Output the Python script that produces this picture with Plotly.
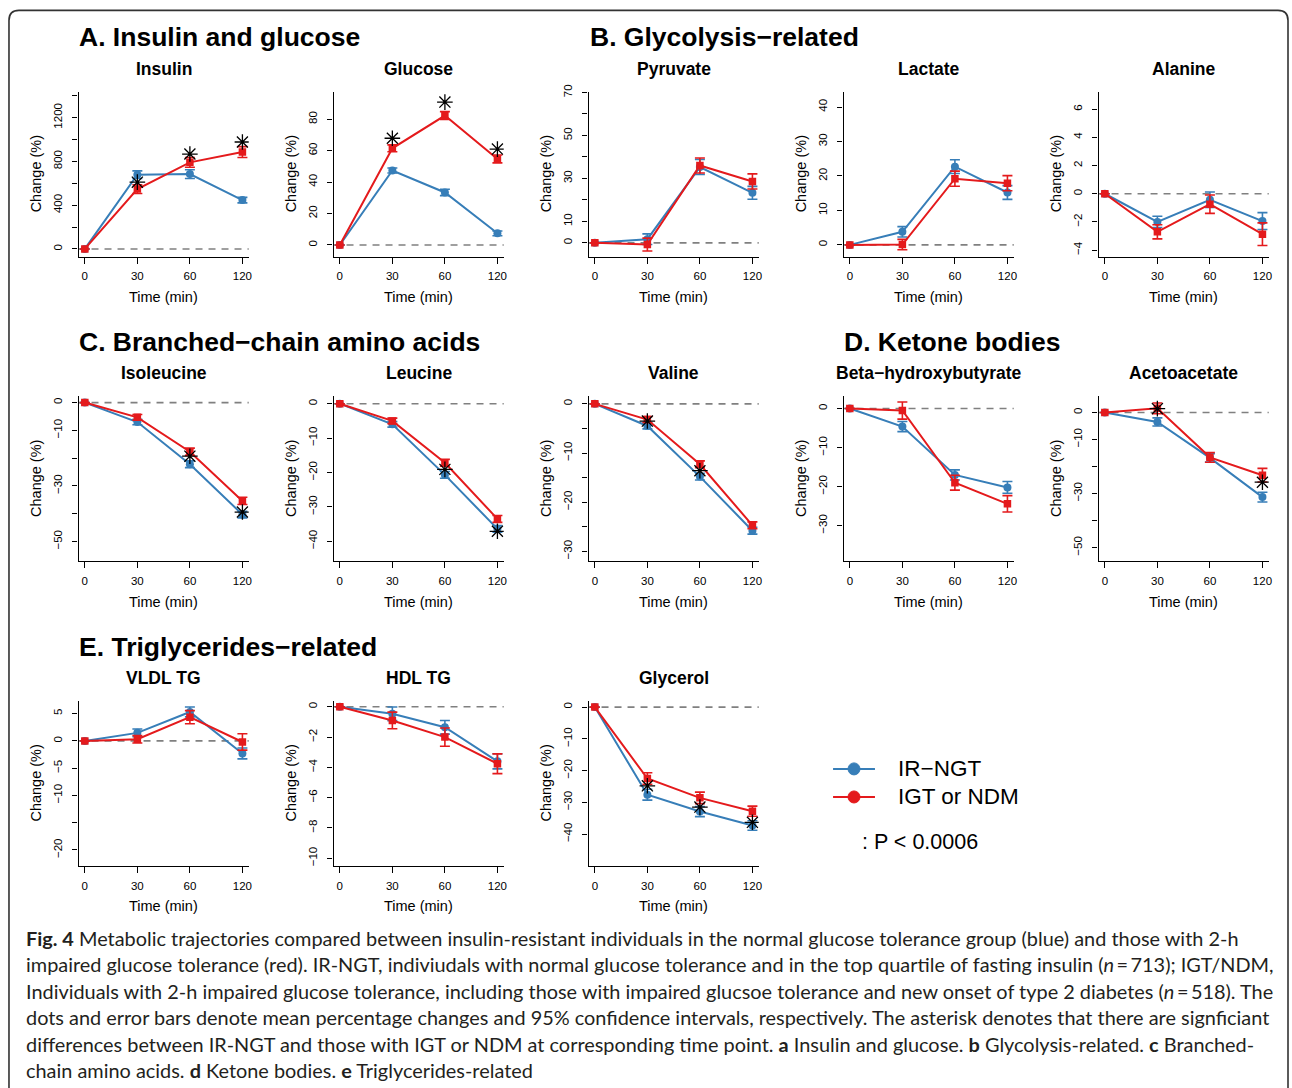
import plotly.graph_objects as go

W, H = 1292, 1088
BLUE = "#377EB8"
RED = "#E41A1C"
GREY = "#808080"
M = "\u2212"

# ---------------- data ----------------
time_labels = ["0", "30", "60", "120"]

insulin_ir = [0, 678, 684, 446]
insulin_ir_ci = [None, 35, 40, 25]
insulin_igt = [0, 547, 791, 885]
insulin_igt_ci = [None, 40, 45, 50]
insulin_sig_t = ["30", "60", "120"]
insulin_sig_y = [610, 867, 977]
insulin_ticks = [0, 200, 400, 600, 800, 1000, 1200, 1400]
insulin_ticklabels = ["0", "", "400", "", "800", "", "1200", ""]

glucose_ir = [0, 47.4, 33.4, 7.4]
glucose_ir_ci = [None, 1.6, 2.0, 1.5]
glucose_igt = [0, 61.5, 82.3, 54.7]
glucose_igt_ci = [None, 2.2, 2.5, 2.5]
glucose_sig_t = ["30", "60", "120"]
glucose_sig_y = [67.9, 90.9, 61.0]
glucose_ticks = [0, 20, 40, 60, 80]
glucose_ticklabels = ["0", "20", "40", "60", "80"]

pyruvate_ir = [0, 1.7, 35.3, 23.3]
pyruvate_ir_ci = [None, 2.5, 3.5, 3.0]
pyruvate_igt = [0, -0.8, 36.0, 28.6]
pyruvate_igt_ci = [None, 3.0, 3.5, 3.5]
pyruvate_sig_t = []
pyruvate_sig_y = []
pyruvate_ticks = [0, 10, 20, 30, 40, 50, 60, 70]
pyruvate_ticklabels = ["0", "10", "", "30", "", "50", "", "70"]

lactate_ir = [0, 3.8, 22.7, 15.2]
lactate_ir_ci = [None, 1.5, 2.0, 2.0]
lactate_igt = [0, 0.1, 19.2, 17.9]
lactate_igt_ci = [None, 1.5, 2.2, 2.2]
lactate_sig_t = []
lactate_sig_y = []
lactate_ticks = [0, 10, 20, 30, 40]
lactate_ticklabels = ["0", "10", "20", "30", "40"]

alanine_ir = [0, -2.0, -0.43, -1.94]
alanine_ir_ci = [None, 0.4, 0.55, 0.6]
alanine_igt = [0, -2.7, -0.74, -2.87]
alanine_igt_ci = [None, 0.5, 0.65, 0.8]
alanine_sig_t = []
alanine_sig_y = []
alanine_ticks = [-4, -2, 0, 2, 4, 6]
alanine_ticklabels = [M + "4", M + "2", "0", "2", "4", "6"]

isoleucine_ir = [0, -7.0, -22.2, -40.3]
isoleucine_ir_ci = [None, 1.0, 1.2, 1.2]
isoleucine_igt = [0, -5.3, -17.7, -35.4]
isoleucine_igt_ci = [None, 1.0, 1.3, 1.3]
isoleucine_sig_t = ["60", "120"]
isoleucine_sig_y = [-19.3, -39.4]
isoleucine_ticks = [-50, -40, -30, -20, -10, 0]
isoleucine_ticklabels = [M + "50", "", M + "30", "", M + "10", "0"]

leucine_ir = [0, -6.0, -20.7, -36.4]
leucine_ir_ci = [None, 0.8, 1.0, 1.0]
leucine_igt = [0, -5.0, -17.2, -33.5]
leucine_igt_ci = [None, 0.8, 1.0, 1.0]
leucine_sig_t = ["60", "120"]
leucine_sig_y = [-19.1, -37.1]
leucine_ticks = [-40, -30, -20, -10, 0]
leucine_ticklabels = [M + "40", M + "30", M + "20", M + "10", "0"]

valine_ir = [0, -4.5, -14.8, -25.8]
valine_ir_ci = [None, 0.6, 0.7, 0.7]
valine_igt = [0, -3.2, -12.3, -24.7]
valine_igt_ci = [None, 0.6, 0.7, 0.7]
valine_sig_t = ["30", "60"]
valine_sig_y = [-3.5, -13.6]
valine_ticks = [-30, -25, -20, -15, -10, -5, 0]
valine_ticklabels = [M + "30", "", M + "20", "", M + "10", "", "0"]

bhb_ir = [0, -4.6, -17.0, -20.2]
bhb_ir_ci = [None, 1.3, 1.3, 1.5]
bhb_igt = [0, -0.5, -19.0, -24.4]
bhb_igt_ci = [None, 2.2, 1.9, 2.1]
bhb_sig_t = []
bhb_sig_y = []
bhb_ticks = [-30, -20, -10, 0]
bhb_ticklabels = [M + "30", M + "20", M + "10", "0"]

acac_ir = [0, -3.5, -16.8, -31.3]
acac_ir_ci = [None, 1.5, 1.5, 1.8]
acac_igt = [0, 1.5, -16.6, -23.2]
acac_igt_ci = [None, 2.0, 1.8, 2.5]
acac_sig_t = ["30", "120"]
acac_sig_y = [1.4, -25.8]
acac_ticks = [-50, -40, -30, -20, -10, 0]
acac_ticklabels = [M + "50", "", M + "30", "", M + "10", "0"]

vldl_ir = [0, 1.47, 5.3, -2.3]
vldl_ir_ci = [None, 0.7, 0.9, 1.0]
vldl_igt = [0, 0.3, 4.35, -0.2]
vldl_igt_ci = [None, 0.7, 1.2, 1.5]
vldl_sig_t = []
vldl_sig_y = []
vldl_ticks = [-20, -15, -10, -5, 0, 5]
vldl_ticklabels = [M + "20", "", M + "10", M + "5", "0", "5"]

hdl_ir = [0, -0.46, -1.35, -3.6]
hdl_ir_ci = [None, 0.45, 0.45, 0.5]
hdl_igt = [0, -0.9, -2.0, -3.76]
hdl_igt_ci = [None, 0.55, 0.6, 0.65]
hdl_sig_t = []
hdl_sig_y = []
hdl_ticks = [-10, -8, -6, -4, -2, 0]
hdl_ticklabels = [M + "10", M + "8", M + "6", M + "4", M + "2", "0"]

glycerol_ir = [0, -27.6, -32.9, -37.3]
glycerol_ir_ci = [None, 1.7, 1.6, 1.5]
glycerol_igt = [0, -22.5, -28.6, -32.8]
glycerol_igt_ci = [None, 1.8, 1.8, 1.6]
glycerol_sig_t = ["30", "60", "120"]
glycerol_sig_y = [-24.8, -31.5, -36.3]
glycerol_ticks = [-40, -30, -20, -10, 0]
glycerol_ticklabels = [M + "40", M + "30", M + "20", M + "10", "0"]

legend_names = ["IR\u2212NGT", "IGT or NDM"]

# ---------------- layout config ----------------
panels = [
    ("Insulin", 0, 0, insulin_ir, insulin_ir_ci, insulin_igt, insulin_igt_ci, insulin_sig_t, insulin_sig_y, [-70, 1435], insulin_ticks, insulin_ticklabels),
    ("Glucose", 0, 1, glucose_ir, glucose_ir_ci, glucose_igt, glucose_igt_ci, glucose_sig_t, glucose_sig_y, [-7.4, 97.4], glucose_ticks, glucose_ticklabels),
    ("Pyruvate", 0, 2, pyruvate_ir, pyruvate_ir_ci, pyruvate_igt, pyruvate_igt_ci, pyruvate_sig_t, pyruvate_sig_y, [-6.4, 70.3], pyruvate_ticks, pyruvate_ticklabels),
    ("Lactate", 0, 3, lactate_ir, lactate_ir_ci, lactate_igt, lactate_igt_ci, lactate_sig_t, lactate_sig_y, [-3.4, 44.4], lactate_ticks, lactate_ticklabels),
    ("Alanine", 0, 4, alanine_ir, alanine_ir_ci, alanine_igt, alanine_igt_ci, alanine_sig_t, alanine_sig_y, [-4.46, 7.23], alanine_ticks, alanine_ticklabels),
    ("Isoleucine", 1, 0, isoleucine_ir, isoleucine_ir_ci, isoleucine_igt, isoleucine_igt_ci, isoleucine_sig_t, isoleucine_sig_y, [-57.1, 2.2], isoleucine_ticks, isoleucine_ticklabels),
    ("Leucine", 1, 1, leucine_ir, leucine_ir_ci, leucine_igt, leucine_igt_ci, leucine_sig_t, leucine_sig_y, [-45.8, 2.1], leucine_ticks, leucine_ticklabels),
    ("Valine", 1, 2, valine_ir, valine_ir_ci, valine_igt, valine_igt_ci, valine_sig_t, valine_sig_y, [-32.0, 1.5], valine_ticks, valine_ticklabels),
    ("Beta\u2212hydroxybutyrate", 1, 3, bhb_ir, bhb_ir_ci, bhb_igt, bhb_igt_ci, bhb_sig_t, bhb_sig_y, [-39.1, 3.1], bhb_ticks, bhb_ticklabels),
    ("Acetoacetate", 1, 4, acac_ir, acac_ir_ci, acac_igt, acac_igt_ci, acac_sig_t, acac_sig_y, [-55.0, 5.9], acac_ticks, acac_ticklabels),
    ("VLDL TG", 2, 0, vldl_ir, vldl_ir_ci, vldl_igt, vldl_igt_ci, vldl_sig_t, vldl_sig_y, [-22.9, 7.3], vldl_ticks, vldl_ticklabels),
    ("HDL TG", 2, 1, hdl_ir, hdl_ir_ci, hdl_igt, hdl_igt_ci, hdl_sig_t, hdl_sig_y, [-10.5, 0.38], hdl_ticks, hdl_ticklabels),
    ("Glycerol", 2, 2, glycerol_ir, glycerol_ir_ci, glycerol_igt, glycerol_igt_ci, glycerol_sig_t, glycerol_sig_y, [-50.0, 1.9], glycerol_ticks, glycerol_ticklabels),
]

sections = [
    ("A. Insulin and glucose", 79, 38),
    ("B. Glycolysis\u2212related", 591, 38),
    ("C. Branched\u2212chain amino acids", 79, 342),
    ("D. Ketone bodies", 846, 342),
    ("E. Triglycerides\u2212related", 79, 646),
]

caption_lines = [
    "<b>Fig. 4</b> Metabolic trajectories compared between insulin-resistant individuals in the normal glucose tolerance group (blue) and those with 2-h",
    "impaired glucose tolerance (red). IR-NGT, indiviudals with normal glucose tolerance and in the top quartile of fasting insulin (<i>n</i>\u2009=\u2009713); IGT/NDM,",
    "Individuals with 2-h impaired glucose tolerance, including those with impaired glucsoe tolerance and new onset of type 2 diabetes (<i>n</i>\u2009=\u2009518). The",
    "dots and error bars denote mean percentage changes and 95% confidence intervals, respectively. The asterisk denotes that there are signficiant",
    "differences between IR-NGT and those with IGT or NDM at corresponding time point. <b>a</b> Insulin and glucose. <b>b</b> Glycolysis-related. <b>c</b> Branched-",
    "chain amino acids. <b>d</b> Ketone bodies. <b>e</b> Triglycerides-related",
]


def px(x):
    return x / W


def py(y):
    # target pixel row -> paper fraction (with a small correction for the vertical offset seen in the render)
    yc = (y - 7.6) / 0.9916
    return 1 - yc / H


AX_FONT = "Liberation Sans, Arial, Helvetica, sans-serif"

fig = go.Figure()
annotations = []
shapes = []
layout = {}

for i, (title, row, col, ir, irci, igt, igtci, sig_t, sig_y, yr, ticks, tlabels) in enumerate(panels):
    n = i + 1
    xs = "" if n == 1 else str(n)
    xa, ya = "x" + xs, "y" + xs
    x0 = 78.7 + 255.6 * col
    x1 = x0 + 170.6
    ytop = 92.3 + 304 * row
    ybot = 256.7 + 304 * row

    fig.add_trace(go.Scatter(
        x=time_labels, y=ir, mode="lines+markers", xaxis=xa, yaxis=ya,
        line=dict(color=BLUE, width=2), marker=dict(symbol="circle", size=8, color=BLUE),
        error_y=dict(type="data", array=irci, color=BLUE, thickness=1.6, width=5),
        showlegend=False, name=legend_names[0]))
    fig.add_trace(go.Scatter(
        x=time_labels, y=igt, mode="lines+markers", xaxis=xa, yaxis=ya,
        line=dict(color=RED, width=2), marker=dict(symbol="square", size=7.5, color=RED),
        error_y=dict(type="data", array=igtci, color=RED, thickness=1.6, width=5),
        showlegend=False, name=legend_names[1]))
    if sig_t:
        fig.add_trace(go.Scatter(
            x=sig_t, y=sig_y, mode="markers", xaxis=xa, yaxis=ya,
            marker=dict(symbol="asterisk-open", size=13, color="black", line=dict(color="black", width=1.3)),
            showlegend=False, name="P < 0.0006"))

    layout["xaxis" + xs] = dict(
        domain=[px(x0), px(x1)], anchor=ya, type="category", categoryorder="array",
        categoryarray=time_labels, range=[-0.12, 3.12], showline=True, linecolor="black",
        linewidth=1.2, ticks="outside", ticklen=6, tickwidth=1, tickcolor="black",
        tickfont=dict(size=11.5, color="black", family=AX_FONT), showgrid=False, zeroline=False,
        ticklabelstandoff=3, fixedrange=True)
    layout["yaxis" + xs] = dict(
        domain=[py(ybot), py(ytop)], anchor=xa, range=yr, tickmode="array", tickvals=ticks,
        ticktext=tlabels, showline=True, linecolor="black", linewidth=1.2, ticks="outside",
        ticklen=5, tickwidth=1, tickcolor="black", tickangle=-90,
        tickfont=dict(size=11.5, color="black", family=AX_FONT), showgrid=False, zeroline=False,
        ticklabelstandoff=6, fixedrange=True)

    shapes.append(dict(type="line", xref=xa + " domain", yref=ya, x0=0, x1=1, y0=0, y1=0,
                       line=dict(color=GREY, width=1.6, dash="7px,6px"), layer="below"))

    cx = (x0 + x1) / 2
    annotations.append(dict(text="<b>%s</b>" % title, x=px(cx), y=py(69 + 304 * row), xref="paper", yref="paper",
                            xanchor="center", yanchor="middle", showarrow=False,
                            font=dict(size=17.5, color="black", family=AX_FONT)))
    annotations.append(dict(text="Change (%)", x=px(x0 - 42.5), y=py((ytop + ybot) / 2), xref="paper", yref="paper",
                            xanchor="center", yanchor="middle", textangle=-90, showarrow=False,
                            font=dict(size=14.5, color="black", family=AX_FONT)))
    annotations.append(dict(text="Time (min)", x=px(cx), y=py(297 + 304 * row), xref="paper", yref="paper",
                            xanchor="center", yanchor="middle", showarrow=False,
                            font=dict(size=14.5, color="black", family=AX_FONT)))

for text, sx, sy in sections:
    annotations.append(dict(text="<b>%s</b>" % text, x=px(sx - 2), y=py(sy), xref="paper", yref="paper",
                            xanchor="left", yanchor="middle", showarrow=False,
                            font=dict(size=26.5, color="black", family=AX_FONT)))

# legend (drawn manually)
for (name, color, ly) in [(legend_names[0], BLUE, 768), (legend_names[1], RED, 796)]:
    shapes.append(dict(type="line", xref="paper", yref="paper", x0=px(835), x1=px(877), y0=py(ly), y1=py(ly),
                       line=dict(color=color, width=2)))
    shapes.append(dict(type="circle", xref="paper", yref="paper", x0=px(850), x1=px(862), y0=py(ly + 6), y1=py(ly - 6),
                       line=dict(color=color, width=1), fillcolor=color))
    annotations.append(dict(text=name, x=px(898), y=py(ly), xref="paper", yref="paper", xanchor="left",
                            yanchor="middle", showarrow=False, font=dict(size=22.5, color="black", family=AX_FONT)))
annotations.append(dict(text=": P < 0.0006", x=px(862), y=py(841), xref="paper", yref="paper", xanchor="left",
                        yanchor="middle", showarrow=False, font=dict(size=21.5, color="black", family=AX_FONT)))

# caption
for k, line in enumerate(caption_lines):
    annotations.append(dict(text=line, x=px(24), y=py(936.3 + 26.5 * k), xref="paper", yref="paper", xanchor="left",
                            yanchor="middle", showarrow=False, align="left",
                            font=dict(size=19.9, color="#231f20", family="Lato, Open Sans, sans-serif")))

# page frame
r = 10
fx0, fx1, fy0, fyb = 9, 1291, 11, 1100
path = ("M %f,%f L %f,%f Q %f,%f %f,%f L %f,%f Q %f,%f %f,%f L %f,%f" % (
    px(fx0), py(fyb), px(fx0), py(fy0 + r), px(fx0), py(fy0), px(fx0 + r), py(fy0),
    px(fx1 - r), py(fy0), px(fx1), py(fy0), px(fx1), py(fy0 + r), px(fx1), py(fyb)))
shapes.append(dict(type="path", xref="paper", yref="paper", path=path, line=dict(color="#333333", width=1.6)))

fig.update_layout(
    width=W, height=H, margin=dict(l=0, r=0, t=0, b=0),
    paper_bgcolor="white", plot_bgcolor="white", showlegend=False,
    annotations=annotations, shapes=shapes, **layout)

fig.write_html(
    "out.html",
    config={"displayModeBar": False},
    post_script=(
        "document.documentElement.style.margin='0px';"
        "document.body.style.margin='0px';document.body.style.padding='0px';"
        "document.documentElement.style.overflow='hidden';"
        "var gd=document.getElementById('{plot_id}');"
        "gd.style.position='absolute';gd.style.top='0px';gd.style.left='0px';"
    ),
)
